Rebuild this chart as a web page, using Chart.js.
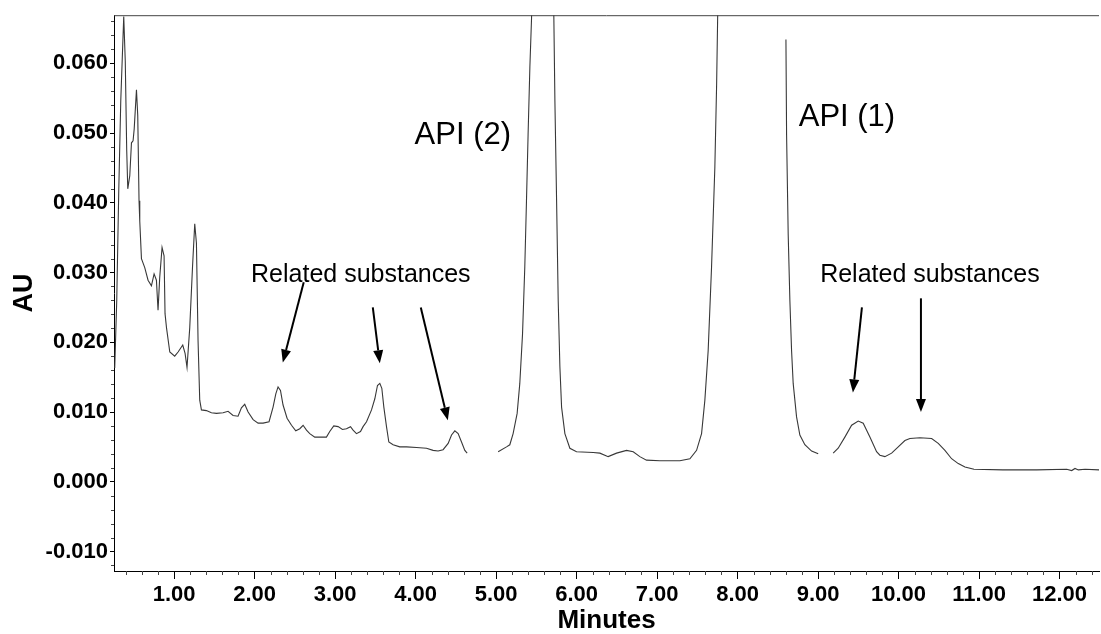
<!DOCTYPE html>
<html>
<head>
<meta charset="utf-8">
<title>Chromatogram</title>
<script src="https://cdn.jsdelivr.net/npm/chart.js@4.4.1/dist/chart.umd.min.js"></script>
<style>
	html, body { margin: 0; padding: 0; background: #fff; }
	#wrap { width: 1101px; height: 634px; position: relative; }
</style>
</head>
<body>
<div id="wrap"><canvas id="trace-chart"></canvas></div>
<script>
var minutes = [
	0.263,0.288,0.313,0.338,0.375,0.394,0.412,0.425,0.450,0.471,0.491,0.505,0.533,0.549,0.565,0.574,0.595,0.636,0.677,0.719,
	0.752,0.781,0.801,0.822,0.851,0.876,0.888,0.906,0.947,1.008,1.050,1.108,1.137,1.161,1.195,1.229,1.257,1.278,1.298,1.319,
	1.340,1.402,1.464,1.527,1.609,1.671,1.733,1.795,1.837,1.878,1.920,1.982,2.044,2.106,2.180,2.230,2.264,2.292,2.322,2.354,
	2.404,2.459,2.512,2.562,2.603,2.645,2.686,2.748,2.810,2.893,2.934,2.984,3.038,3.092,3.142,3.192,3.224,3.266,3.316,3.348,
	3.391,3.453,3.494,3.527,3.556,3.581,3.606,3.639,3.668,3.721,3.804,3.888,4.012,4.136,4.218,4.280,4.342,4.405,4.447,4.488,
	4.529,4.571,4.612,4.641,
	4.800,
	5.026,5.130,5.171,5.212,5.262,5.295,5.329,5.357,5.378,5.398,5.420,5.441,5.460,5.700,5.718,5.731,5.752,5.772,5.793,5.814,
	5.855,5.917,6.000,6.207,6.290,6.393,6.497,6.621,6.704,6.786,6.869,7.035,7.283,7.408,7.491,7.553,7.594,7.635,7.677,7.718,
	7.740,7.752,7.770,
	8.200,
	8.601,8.609,8.629,8.650,8.671,8.691,8.733,8.774,8.836,8.920,9.002,
	9.100,
	9.188,9.250,9.333,9.417,9.499,9.561,9.644,9.727,9.768,9.830,9.914,9.996,10.079,10.141,10.266,10.411,10.493,10.576,10.659,10.742,
	10.825,10.937,11.297,11.716,12.089,12.151,12.192,12.233,12.317,12.503
];
var au = [
	0.0163,0.0260,0.0417,0.0546,0.0667,0.0603,0.0475,0.0420,0.0439,0.0486,0.0489,0.0506,0.0562,0.0525,0.0403,0.0374,0.0320,0.0307,0.0289,0.0281,
	0.0298,0.0289,0.0246,0.0293,0.0336,0.0324,0.0241,0.0221,0.0186,0.0180,0.0186,0.0196,0.0184,0.0164,0.0221,0.0307,0.0370,0.0342,0.0203,0.0117,
	0.0103,0.0102,0.0099,0.0098,0.0099,0.0101,0.0095,0.0094,0.0106,0.0111,0.0100,0.0089,0.0084,0.0084,0.0086,0.0107,0.0126,0.0136,0.0131,0.0110,
	0.0091,0.0081,0.0073,0.0076,0.0081,0.0074,0.0069,0.0064,0.0064,0.0064,0.0072,0.0080,0.0079,0.0075,0.0076,0.0079,0.0074,0.0069,0.0072,0.0079,
	0.0086,0.0103,0.0119,0.0138,0.0141,0.0134,0.0107,0.0079,0.0057,0.0053,0.0050,0.0050,0.0049,0.0048,0.0045,0.0044,0.0046,0.0055,0.0067,0.0073,
	0.0069,0.0057,0.0045,0.0041,
	null,
	0.0043,0.0050,0.0053,0.0069,0.0098,0.0141,0.0212,0.0308,0.0403,0.0498,0.0594,0.0665,0.0800,0.0800,0.0665,0.0546,0.0403,0.0260,0.0165,0.0107,
	0.0069,0.0048,0.0043,0.0042,0.0041,0.0036,0.0041,0.0045,0.0043,0.0036,0.0031,0.0030,0.0030,0.0033,0.0045,0.0069,0.0117,0.0188,0.0308,0.0451,
	0.0570,0.0660,0.0800,
	null,
	0.0634,0.0498,0.0355,0.0260,0.0188,0.0141,0.0093,0.0067,0.0053,0.0044,0.0040,
	null,
	0.0041,0.0048,0.0064,0.0081,0.0087,0.0084,0.0064,0.0043,0.0038,0.0036,0.0041,0.0050,0.0059,0.0062,0.0063,0.0062,0.0055,0.0045,0.0033,0.0026,
	0.0021,0.0018,0.0017,0.0017,0.0018,0.0016,0.0019,0.0017,0.0018,0.0017
];

var xTickValues = [1, 2, 3, 4, 5, 6, 7, 8, 9, 10, 11, 12];
var yTickValues = [-0.01, 0, 0.01, 0.02, 0.03, 0.04, 0.05, 0.06];

// labels written on the trace
var noteTexts = ['API (2)', 'API (1)', 'Related substances', 'Related substances'];

var fontFamily = "'Liberation Sans', Arial, Helvetica, sans-serif";
// where the notes and arrows sit, in minutes / AU
var noteAt = [[4.587, 0.0497], [9.359, 0.0523], [3.320, 0.0297], [10.390, 0.0297]];
var noteSize = [31, 31, 25, 25];
var arrowsAt = [
	[2.611, 0.0286, 2.351, 0.0171],
	[3.469, 0.0250, 3.556, 0.0170],
	[4.065, 0.0250, 4.401, 0.0088],
	[9.545, 0.0250, 9.433, 0.0128],
	[10.278, 0.0263, 10.278, 0.0100]
];

var points = minutes.map(function(t, i){
	return {x: t, y: au[i]};
});

function drawArrow(ctx, x1, y1, x2, y2){
	var ang = Math.atan2(y2 - y1, x2 - x1);
	var head = 13, half = 5;
	var bx = x2 - head * Math.cos(ang), by = y2 - head * Math.sin(ang);
	ctx.beginPath();
	ctx.moveTo(x1, y1);
	ctx.lineTo(bx, by);
	ctx.stroke();
	ctx.beginPath();
	ctx.moveTo(x2, y2);
	ctx.lineTo(bx + half * Math.sin(ang), by - half * Math.cos(ang));
	ctx.lineTo(bx - half * Math.sin(ang), by + half * Math.cos(ang));
	ctx.closePath();
	ctx.fill();
}

var decorPlugin = {
	id: 'decor',
	afterDraw: function(chart){
		var ctx = chart.ctx, xs = chart.scales.x, ys = chart.scales.y, area = chart.chartArea;
		ctx.save();
		// top frame line
		ctx.strokeStyle = '#444';
		ctx.lineWidth = 1;
		ctx.beginPath();
		ctx.moveTo(area.left, area.top + 0.5);
		ctx.lineTo(area.right, area.top + 0.5);
		ctx.stroke();

		// minor ticks
		ctx.strokeStyle = '#444';
		ctx.beginPath();
		for (var k = 2; k <= 62; k++) {
			if (k % 5 == 0) continue;
			var px = Math.round(xs.getPixelForValue(k * 0.2)) + 0.5;
			if (px > area.right) break;
			ctx.moveTo(px, area.bottom);
			ctx.lineTo(px, area.bottom + 4);
		}
		for (var j = -6; j <= 33; j++) {
			if (j % 5 == 0) continue;
			var py = Math.round(ys.getPixelForValue(j * 0.002)) + 0.5;
			if (py < area.top || py > area.bottom) continue;
			ctx.moveTo(area.left - 3, py);
			ctx.lineTo(area.left, py);
		}
		ctx.stroke();

		// notes and arrows
		ctx.fillStyle = '#000';
		ctx.strokeStyle = '#000';
		ctx.textAlign = 'center';
		ctx.textBaseline = 'middle';
		for (var i = 0; i < noteTexts.length; i++) {
			ctx.font = noteSize[i] + 'px ' + fontFamily;
			ctx.fillText(noteTexts[i], xs.getPixelForValue(noteAt[i][0]), ys.getPixelForValue(noteAt[i][1]));
		}
		ctx.lineWidth = 2;
		arrowsAt.forEach(function(a){
			drawArrow(ctx, xs.getPixelForValue(a[0]), ys.getPixelForValue(a[1]),
				xs.getPixelForValue(a[2]), ys.getPixelForValue(a[3]));
		});
		ctx.restore();
	}
};

var ctx = document.getElementById('trace-chart');
var traceChart = new Chart(ctx, {
	type: 'line',
	data: {
		datasets: [{
			data: points,
			borderColor: '#383838',
			borderWidth: 1.1,
			pointRadius: 0,
			tension: 0,
			spanGaps: false,
			fill: false
		}]
	},
	options: {
		responsive: true,
		maintainAspectRatio: false,
		devicePixelRatio: 1,
		animation: false,
		events: [],
		layout: { padding: { left: 0, top: 14, right: 2, bottom: 0 } },
		plugins: {
			legend: { display: false },
			tooltip: { enabled: false }
		},
		scales: {
			x: {
				type: 'linear',
				min: 0.254,
				max: 12.49,
				afterFit: function(scale){ scale.height = 63; },
				afterBuildTicks: function(scale){
					scale.ticks = xTickValues.map(function(v){ return {value: v}; });
				},
				border: { display: true, color: '#000', width: 1 },
				grid: { display: true, drawOnChartArea: false, drawTicks: true, tickLength: 8, tickColor: '#000' },
				ticks: {
					autoSkip: false,
					maxRotation: 0,
					padding: 3,
					color: '#000',
					font: { family: fontFamily, size: 22, weight: 'bold' },
					callback: function(v){ return Number(v).toFixed(2); }
				},
				title: {
					display: true,
					text: 'Minutes',
					color: '#000',
					font: { family: fontFamily, size: 26, weight: 'bold', lineHeight: 1 },
					padding: { top: 0, bottom: 0 }
				}
			},
			y: {
				type: 'linear',
				min: -0.0128,
				max: 0.0669,
				afterFit: function(scale){ scale.width = 114; },
				afterBuildTicks: function(scale){
					scale.ticks = yTickValues.map(function(v){ return {value: v}; });
				},
				border: { display: true, color: '#000', width: 1 },
				grid: { display: true, drawOnChartArea: false, drawTicks: true, tickLength: 4, tickColor: '#000' },
				ticks: {
					padding: 2,
					color: '#000',
					font: { family: fontFamily, size: 22, weight: 'bold' },
					callback: function(v){ return Number(v).toFixed(3); }
				},
				title: {
					display: true,
					text: 'AU',
					color: '#000',
					font: { family: fontFamily, size: 27, weight: 'bold', lineHeight: 1 },
					padding: { top: 11, bottom: 0 }
				}
			}
		}
	},
	plugins: [decorPlugin]
});
</script>
</body>
</html>
